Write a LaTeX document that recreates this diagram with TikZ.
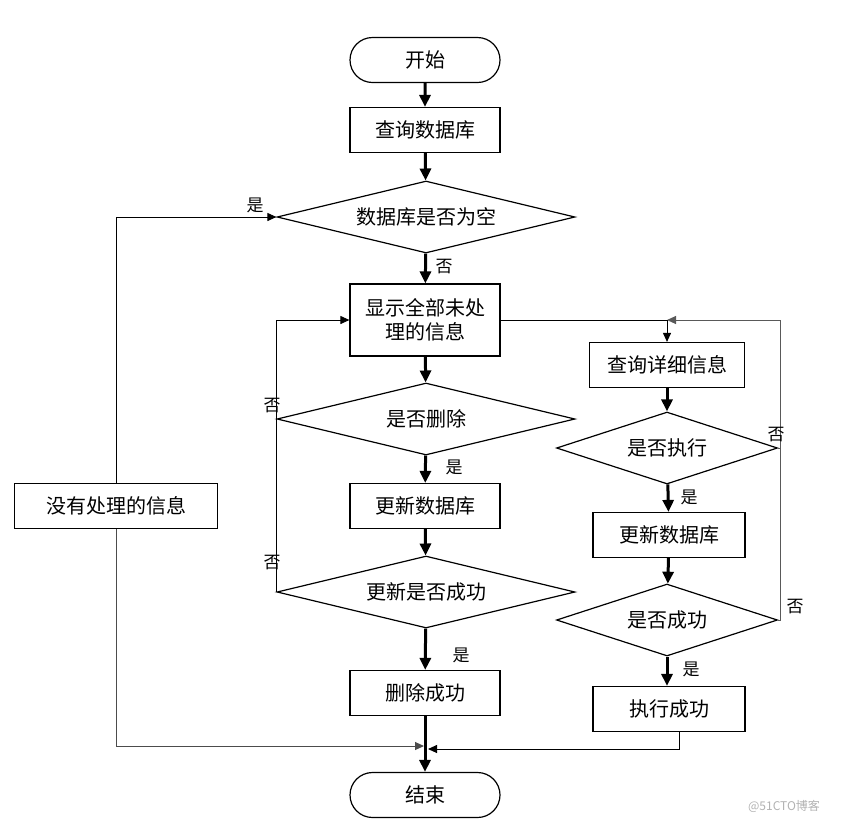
\documentclass[tikz,border=0pt]{standalone}
\usepackage{fontspec}
\setmainfont{Noto Sans CJK SC}
\usetikzlibrary{shapes.geometric,shapes.misc,arrows.meta}
\begin{document}
\begin{tikzpicture}[x=1pt,y=-1pt,
  every node/.style={font=\fontsize{20}{24}\selectfont},
  box/.style={draw,line width=1.2pt,rectangle,minimum width=150,minimum height=45,inner sep=0,align=center},
  term/.style={draw,line width=1.2pt,rounded rectangle,minimum width=150,minimum height=45,inner sep=0},
  dec/.style={draw,line width=1.2pt,diamond,aspect=4.14,minimum width=298,minimum height=72,inner sep=0},
  decr/.style={draw,line width=1.2pt,diamond,aspect=3.07,minimum width=221,minimum height=72,inner sep=0},
  thk/.style={line width=3pt,-{Triangle[length=12pt,width=11pt]}},
  thn/.style={line width=1pt,-{Triangle[length=9pt,width=8pt]}},
  lbl/.style={font=\fontsize{17}{20}\selectfont,inner sep=0}]
\useasboundingbox (0,0) rectangle (842,823);
\node[term] (start) at (425,60) {开始};
\node[box] (q1) at (425,130) {查询数据库};
\node[dec] (d1) at (426,217) {数据库是否为空};
\node[box,minimum height=72] (show) at (425,320) {显示全部未处\\理的信息};
\node[dec] (d2) at (426,419) {是否删除};
\node[box] (upd1) at (425,506) {更新数据库};
\node[dec] (d3) at (426,592) {更新是否成功};
\node[box] (delok) at (425,693) {删除成功};
\node[term] (end) at (425,795) {结束};
\node[box,minimum width=203] (none) at (116,506) {没有处理的信息};
\node[box,minimum width=155] (q2) at (667,365) {查询详细信息};
\node[decr] (d4) at (667,448) {是否执行};
\node[box,minimum width=152] (upd2) at (669,535) {更新数据库};
\node[decr] (d5) at (667,620) {是否成功};
\node[box,minimum width=152] (exok) at (669,709) {执行成功};
\coordinate (T) at (667,320);
\coordinate (R) at (780,320);
\coordinate (JL) at (424,746);
\coordinate (JR) at (428,749);
% thick main arrows
\draw[thk] (start) -- (q1);
\draw[thk] (q1) -- (d1);
\draw[thk] (d1) -- (show);
\draw[thk] (show) -- (d2);
\draw[thk] (d2) -- (upd1);
\draw[thk] (upd1) -- (d3);
\draw[thk] (d3) -- (delok);
\draw[thk] (delok) -- (end);
\draw[thk] (q2) -- (d4);
\draw[thk] (d4) -- (upd2);
\draw[thk] (upd2) -- (d5);
\draw[thk] (d5.south) -- (d5.south |- exok.north);
% thin connectors
\draw[thn] (none.north) |- (d1.west);
\draw[thn,draw=black!70] (none.south) |- (JL);
\draw[thn] (d3.west) |- (show.west);
\draw (show.east) -- (T);
\draw[thn,draw=black!65] (d5.east) -| (R) -- (T);
\draw[draw=black!65] (d4.east) -- (d4.east -| R);
\draw[thn] (T) -- (q2.north);
\draw[thn] ([xshift=10pt]exok.south) |- (JR);
% labels
\node[lbl] at (255,205) {是};
\node[lbl] at (444,267) {否};
\node[lbl] at (272,406) {否};
\node[lbl] at (454,467) {是};
\node[lbl] at (272,563) {否};
\node[lbl] at (461,655) {是};
\node[lbl] at (776,435) {否};
\node[lbl] at (689,497) {是};
\node[lbl] at (795,607) {否};
\node[lbl] at (691,669) {是};
\node[font=\fontsize{12}{14}\selectfont,text=black!30,inner sep=0] (wm) at (784,806) {@51CTO博客};
\end{tikzpicture}
\end{document}
